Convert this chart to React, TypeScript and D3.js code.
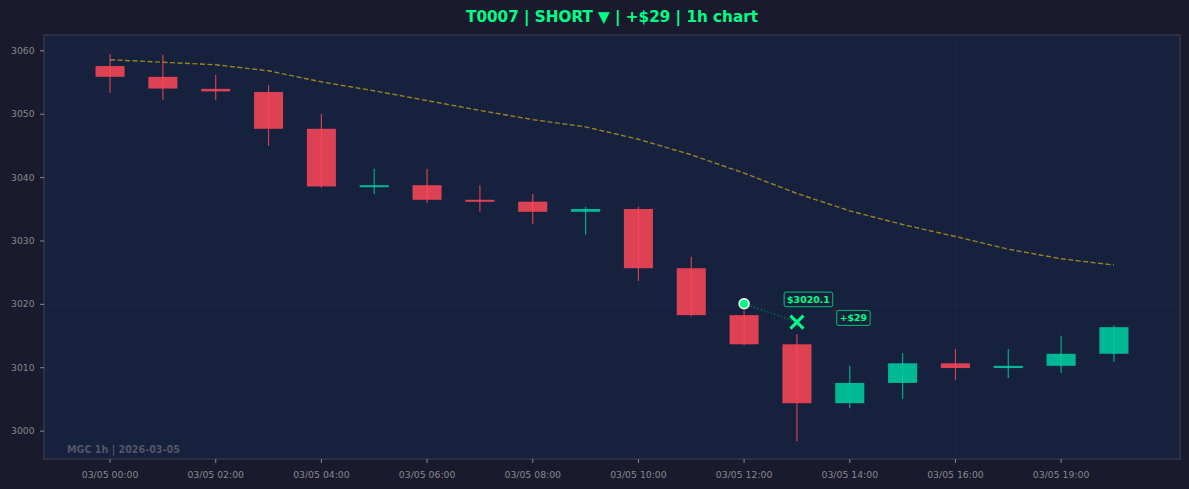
import React, { useEffect } from 'react';
import * as d3 from 'd3';

// candle data, 1h bars
const opens = [3057.6, 3055.9, 3054.0, 3053.5, 3047.7, 3038.6, 3038.8, 3036.5, 3036.2, 3034.6, 3035.05, 3025.7, 3018.3, 3013.7, 3004.4, 3007.6, 3010.7, 3009.95, 3010.3, 3012.2];
const highs = [3059.5, 3059.4, 3056.2, 3054.6, 3050.05, 3041.4, 3041.4, 3038.8, 3037.4, 3035.4, 3035.4, 3027.5, 3019.0, 3015.3, 3010.3, 3012.3, 3012.95, 3012.95, 3015.05, 3016.7];
const lows = [3053.4, 3052.3, 3052.3, 3045.0, 3038.4, 3037.4, 3036.0, 3034.6, 3032.7, 3031.0, 3023.7, 3018.1, 3013.55, 2998.4, 3003.6, 3005.05, 3008.05, 3008.4, 3009.2, 3010.9];
const closes = [3055.9, 3054.05, 3053.6, 3047.7, 3038.6, 3038.8, 3036.5, 3036.2, 3034.6, 3035.05, 3025.7, 3018.3, 3013.7, 3004.4, 3007.6, 3010.7, 3009.95, 3010.3, 3012.2, 3016.4];
const maValues = [3058.6, 3058.2, 3057.8, 3056.85, 3055.1, 3053.7, 3052.15, 3050.6, 3049.15, 3048.0, 3046.05, 3043.6, 3040.7, 3037.5, 3034.75, 3032.6, 3030.7, 3028.7, 3027.2, 3026.2];

const tickIndex = [0, 2, 4, 6, 8, 10, 12, 14, 16, 18];
const tickLabels = ['03/05 00:00', '03/05 02:00', '03/05 04:00', '03/05 06:00', '03/05 08:00', '03/05 10:00', '03/05 12:00', '03/05 14:00', '03/05 16:00', '03/05 19:00'];
const yTicks = [3000, 3010, 3020, 3030, 3040, 3050, 3060];

// trade
const entryIndex = 12;
const entryPrice = 3020.1;
const exitIndex = 13;
const exitPrice = 3017.2;
const pnl = 29;

const W = 1189;
const H = 489;
const plot = { left: 44, right: 1180, top: 35, bottom: 459 };

const UP = '#00b894';
const DOWN = '#dc4154';
const ACCENT = '#00ff88';
const FONT = 'DejaVu Sans, sans-serif';

export default function App() {
  useEffect(() => {
    document.body.style.margin = '0';
    document.body.style.background = '#1a1a2e';
  }, []);

  const x = d3.scaleLinear().domain([-1.25, 20.25]).range([plot.left, plot.right]);
  const y = d3.scaleLinear().domain([2995.6, 3062.5]).range([plot.bottom, plot.top]);
  const bw = x(0.55) - x(0);

  const idx = d3.range(opens.length);
  const maLine = d3.line<number>().x((_, i) => x(i)).y(d => y(d));

  const ex = x(exitIndex);
  const ey = y(exitPrice);
  const arm = 6.5;

  return (
    <svg width={W} height={H} style={{ display: 'block', background: '#1a1a2e' }} fontFamily={FONT}>
      <rect x={plot.left} y={plot.top} width={plot.right - plot.left} height={plot.bottom - plot.top} fill="#16213e" />

      {/* grid */}
      {yTicks.map(t => (
        <line key={'gy' + t} x1={plot.left} x2={plot.right} y1={y(t)} y2={y(t)} stroke="#ffffff" strokeOpacity={0.022} />
      ))}
      {tickIndex.map(t => (
        <line key={'gx' + t} x1={x(t)} x2={x(t)} y1={plot.top} y2={plot.bottom} stroke="#ffffff" strokeOpacity={0.022} />
      ))}

      {/* moving average */}
      <path d={maLine(maValues) || ''} fill="none" stroke="#f1c40f" strokeOpacity={0.6} strokeWidth={1.4} strokeDasharray="5,2.5" />

      {/* candles */}
      {idx.map(i => {
        const up = closes[i] >= opens[i];
        const top = y(Math.max(opens[i], closes[i]));
        const bot = y(Math.min(opens[i], closes[i]));
        const h = Math.max(bot - top, 2);
        return (
          <g key={'c' + i}>
            <rect x={x(i) - bw / 2} y={top} width={bw} height={h} fill={up ? UP : DOWN} />
            <line x1={x(i)} x2={x(i)} y1={y(highs[i])} y2={y(lows[i])} stroke={up ? '#00c9a0' : '#ff4757'} strokeOpacity={0.8} strokeWidth={1.2} />
          </g>
        );
      })}

      {/* trade link */}
      <line x1={x(entryIndex)} y1={y(entryPrice)} x2={ex} y2={ey} stroke={ACCENT} strokeOpacity={0.3} strokeWidth={1.5} strokeDasharray="1.5,2" />
      <circle cx={x(entryIndex)} cy={y(entryPrice)} r={5} fill={ACCENT} stroke="#ffffff" strokeWidth={1.5} />
      <line x1={ex - arm} y1={ey - arm} x2={ex + arm} y2={ey + arm} stroke={ACCENT} strokeWidth={3} />
      <line x1={ex - arm} y1={ey + arm} x2={ex + arm} y2={ey - arm} stroke={ACCENT} strokeWidth={3} />

      <g transform={`translate(${ex + 11.5},${ey - 22.7})`}>
        <rect x={-24.3} y={-7.3} width={48.6} height={14.6} rx={2} fill="#16213e" fillOpacity={0.85} stroke={ACCENT} strokeOpacity={0.7} />
        <text textAnchor="middle" dy="0.35em" fontSize={9.4} fontWeight="bold" fill={ACCENT}>{`$${entryPrice.toFixed(1)}`}</text>
      </g>
      <g transform={`translate(${ex + 56.5},${ey - 4.2})`}>
        <rect x={-16.7} y={-7.5} width={33.4} height={15} rx={2} fill="#16213e" fillOpacity={0.85} stroke={ACCENT} strokeOpacity={0.7} />
        <text textAnchor="middle" dy="0.35em" fontSize={9.4} fontWeight="bold" fill={ACCENT}>{`+$${pnl}`}</text>
      </g>

      {/* watermark */}
      <text x={67} y={452.5} fontSize={9.6} fontWeight="bold" fill="#555566">MGC 1h | 2026-03-05</text>

      {/* frame */}
      <rect x={plot.left} y={plot.top} width={plot.right - plot.left} height={plot.bottom - plot.top} fill="none" stroke="#3d3d4a" strokeWidth={1.2} />

      {/* y axis */}
      {yTicks.map(t => (
        <g key={'yt' + t} transform={`translate(${plot.left},${y(t)})`}>
          <line x1={-4} x2={0} stroke="#888888" />
          <text x={-9.5} dy="0.34em" textAnchor="end" fontSize={9.2} fill="#888888">{t}</text>
        </g>
      ))}

      {/* x axis */}
      {tickIndex.map((t, k) => (
        <g key={'xt' + t} transform={`translate(${x(t)},${plot.bottom})`}>
          <line y1={0} y2={4} stroke="#888888" />
          <text y={18.5} textAnchor="middle" fontSize={9.3} fill="#888888">{tickLabels[k]}</text>
        </g>
      ))}

      {/* title */}
      <text x={(plot.left + plot.right) / 2} y={22.3} textAnchor="middle" fontSize={15.2} fontWeight="bold" fill={ACCENT}>
        T0007 | SHORT ▼ | +$29 | 1h chart
      </text>
    </svg>
  );
}
